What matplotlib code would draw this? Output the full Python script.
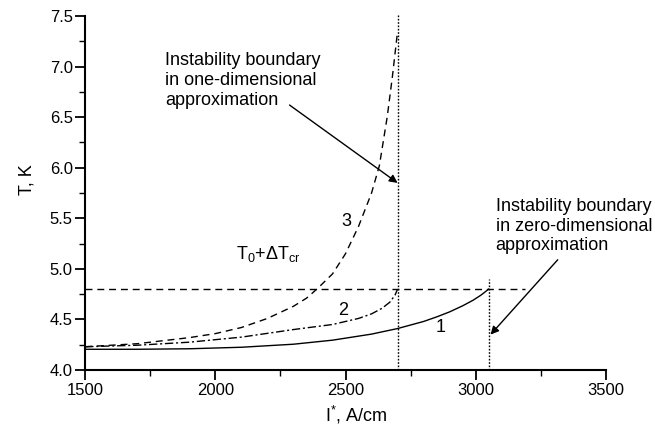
import matplotlib
matplotlib.use('Agg')
import matplotlib.pyplot as plt

plt.rcParams['font.family'] = ['Liberation Sans', 'DejaVu Sans']
plt.rcParams['mathtext.fontset'] = 'custom'
plt.rcParams['mathtext.rm'] = 'Liberation Sans'
plt.rcParams['mathtext.it'] = 'Liberation Sans:italic'

# curve 1: solid, zero-dimensional
i_1 = [1500, 1700, 1900, 2100, 2300, 2450, 2600, 2700, 2800, 2850, 2900,
       2950, 2990, 3020, 3050]
t_1 = [4.205, 4.205, 4.21, 4.225, 4.255, 4.295, 4.355, 4.41, 4.48, 4.525, 4.575,
       4.635, 4.69, 4.74, 4.80]

# curve 2: dash-dot
i_2 = [1500, 1700, 1900, 2100, 2300, 2450, 2550, 2600, 2640, 2670, 2690, 2700]
t_2 = [4.23, 4.245, 4.275, 4.325, 4.40, 4.45, 4.51, 4.555, 4.61, 4.67, 4.74, 4.80]

# curve 3: dashed
i_3 = [1500, 1700, 1900, 2000, 2100, 2200, 2300, 2350, 2390, 2450, 2500,
       2550, 2600, 2630, 2660, 2680, 2700]
t_3 = [4.23, 4.26, 4.32, 4.36, 4.42, 4.51, 4.63, 4.71, 4.80, 4.95, 5.15,
       5.42, 5.75, 6.02, 6.50, 6.90, 7.35]

t_crit = 4.8          # T0 + dT_cr
i_boundary_1d = 2700
i_boundary_0d = 3050

fig = plt.figure(figsize=(6.55, 4.28), dpi=100)
ax = fig.add_axes([0.130, 0.1355, 0.795, 0.827])

ax.plot(i_1, t_1, color='black', lw=1.0, ls='-')
ax.plot(i_2, t_2, color='black', lw=1.0, ls=(0, (6, 2, 1.5, 2)))
ax.plot(i_3, t_3, color='black', lw=1.0, ls=(0, (5, 3.5)))

ax.hlines(t_crit, 1500, 3190, color='black', lw=1.0, linestyles=[(0, (5, 3.5))])
ax.vlines(i_boundary_1d, 4.0, 7.52, color='black', lw=1.0,
          linestyles=[(0, (1.2, 1.2))], clip_on=False)
ax.vlines(i_boundary_0d, 4.0, 4.9, color='black', lw=1.0,
          linestyles=[(0, (1.2, 1.2))])

ax.text(2080, 5.05, r'$\mathregular{T_0{+}\Delta T_{cr}}$', fontsize=13, va='bottom')
ax.text(2505, 5.47, '3', fontsize=13, ha='center', va='center')
ax.text(2492, 4.59, '2', fontsize=13, ha='center', va='center')
ax.text(2865, 4.42, '1', fontsize=13, ha='center', va='center')

ax.text(1808, 7.14, 'Instability boundary\nin one-dimensional\napproximation',
        fontsize=13, va='top', ha='left')
ax.text(3077, 5.70, 'Instability boundary\nin zero-dimensional\napproximation',
        fontsize=13, va='top', ha='left')

arrow = dict(arrowstyle='-|>', color='black', lw=1.0, mutation_scale=12,
             shrinkA=0, shrinkB=0)
ax.annotate('', xy=(i_boundary_1d, 5.85), xytext=(2285, 6.62), arrowprops=arrow)
ax.annotate('', xy=(3057, 4.35), xytext=(3315, 5.09), arrowprops=arrow)

ax.set_xlim(1500, 3500)
ax.set_ylim(4.0, 7.5)
ax.set_xticks([1500, 2000, 2500, 3000, 3500])
ax.set_xticks([1750, 2250, 2750, 3250], minor=True)
ax.set_yticks([4.0, 4.5, 5.0, 5.5, 6.0, 6.5, 7.0, 7.5])
ax.set_yticks([4.25, 4.75, 5.25, 5.75, 6.25, 6.75, 7.25], minor=True)
ax.set_yticklabels(['4.0', '4.5', '5.0', '5.5', '6.0', '6.5', '7.0', '7.5'])

ax.spines['top'].set_visible(False)
ax.spines['right'].set_visible(False)
ax.spines['left'].set_linewidth(1.5)
ax.spines['bottom'].set_linewidth(1.5)
ax.tick_params(which='major', direction='out', length=7, width=1.3,
               labelsize=12, pad=2)
ax.tick_params(which='minor', direction='out', length=4, width=1.0)

ax.set_xlabel(r'$\mathregular{I^{*}}$, A/cm', fontsize=13)
ax.xaxis.set_label_coords(0.52, -0.095)
ax.set_ylabel('T, K', fontsize=13)
ax.yaxis.set_label_coords(-0.096, 0.537)

fig.savefig('out.png', dpi=100)
